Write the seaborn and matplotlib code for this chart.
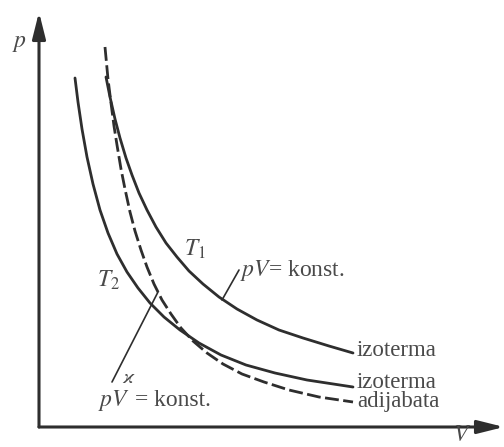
'''
p-V diagram: two isotherms and an adiabat (textbook style sketch)
'''

import pandas as pd
import matplotlib
matplotlib.use("Agg")
import matplotlib.pyplot as plt
import seaborn as sns

#Values (arbitrary units, origin at the axis corner)
V_T1 = [67, 71, 76, 81, 87, 93, 100, 108, 117, 127, 138, 150, 164, 180,
        198, 218, 240, 264, 290, 314]
p_T1 = [350, 330, 308, 289, 269, 252, 234, 217, 200, 184, 170, 156, 143, 130,
        118, 107, 97, 89, 81, 74]

V_T2 = [36, 39, 43, 48, 54, 61, 69, 78, 88, 99, 111, 125, 141, 160,
        182, 207, 236, 268, 314]
p_T2 = [349, 325, 298, 270, 243, 217, 194, 173, 155, 139, 124, 110, 97, 84,
        72, 62, 54, 47, 40]

V_ad = [66, 69, 72, 75, 78, 82, 86, 91, 96, 102, 108, 115, 123, 132, 142,
        154, 168, 184, 203, 225, 250, 280, 314]
p_ad = [380, 348, 324, 301, 282, 258, 238, 215, 196, 177, 160, 143, 127, 113, 99,
        86, 74, 63, 53, 45, 37, 30, 25]

curve_names = ["T1", "T2", "adiabat"]
end_labels = ["izoterma", "izoterma", "adijabata"]

LINE = "#2e2e2e"
TEXT = "#4a4a4a"

#Build a long table for seaborn
df = pd.concat([
    pd.DataFrame({"V": V_T1, "p": p_T1, "curve": "T1"}),
    pd.DataFrame({"V": V_T2, "p": p_T2, "curve": "T2"}),
    pd.DataFrame({"V": V_ad, "p": p_ad, "curve": "adiabat"}),
], ignore_index=True)

sns.set_theme(style="white")
plt.rcParams["font.family"] = ["Liberation Serif", "DejaVu Serif"]
plt.rcParams["mathtext.fontset"] = "stix"

fig = plt.figure(figsize=(5.04, 4.47), dpi=100)
ax = fig.add_axes([0, 0, 1, 1])

sns.lineplot(
    data=df, x="V", y="p", hue="curve", style="curve",
    palette={c: LINE for c in curve_names},
    dashes={"T1": "", "T2": "", "adiabat": (5, 1.6)},
    sort=False, estimator=None, legend=False, lw=2.0, ax=ax
)

ax.set_xlim(-39, 465)
ax.set_ylim(-20, 427)
ax.set_axis_off()

#Axes with arrow heads
arrow = dict(arrowstyle="-|>,head_length=0.4,head_width=0.1",
             lw=2.2, color=LINE, mutation_scale=40, shrinkA=0, shrinkB=0)
ax.annotate("", xy=(0, 415), xytext=(0, 0), arrowprops=arrow)
ax.annotate("", xy=(465, 0), xytext=(0, 0), arrowprops=arrow)

ax.text(-27, 380, "$p$", fontsize=17, color=TEXT)
ax.text(414, -14, "$V$", fontsize=17, color=TEXT, clip_on=False)

#Curve labels
ax.text(145, 171, "$T_1$", fontsize=17, color=TEXT)
ax.text(58, 140, "$T_2$", fontsize=17, color=TEXT)

end_p = [p_T1[-1], p_T2[-1], p_ad[-1]]
end_off = [-3, -1, -5]
for lab, pe, off in zip(end_labels, end_p, end_off):
    ax.text(V_T1[-1] + 4, pe + off, lab, fontsize=16.5, color=TEXT,
            va="baseline")

#Formula annotations with leader lines
ax.plot([183, 200], [127, 157], color=LINE, lw=1.2)
ax.text(201, 151, "$pV$= konst.", fontsize=17, color=TEXT, va="baseline")

ax.plot([73, 119], [45, 135], color=LINE, lw=1.2)
ax.text(59, 21, "$pV$", fontsize=17, color=TEXT, va="baseline")
ax.text(83, 44, r"$\varkappa$", fontsize=15, color=TEXT, va="baseline")
ax.text(96, 21, "= konst.", fontsize=17, color=TEXT, va="baseline")

plt.savefig("out.png", dpi=100)
